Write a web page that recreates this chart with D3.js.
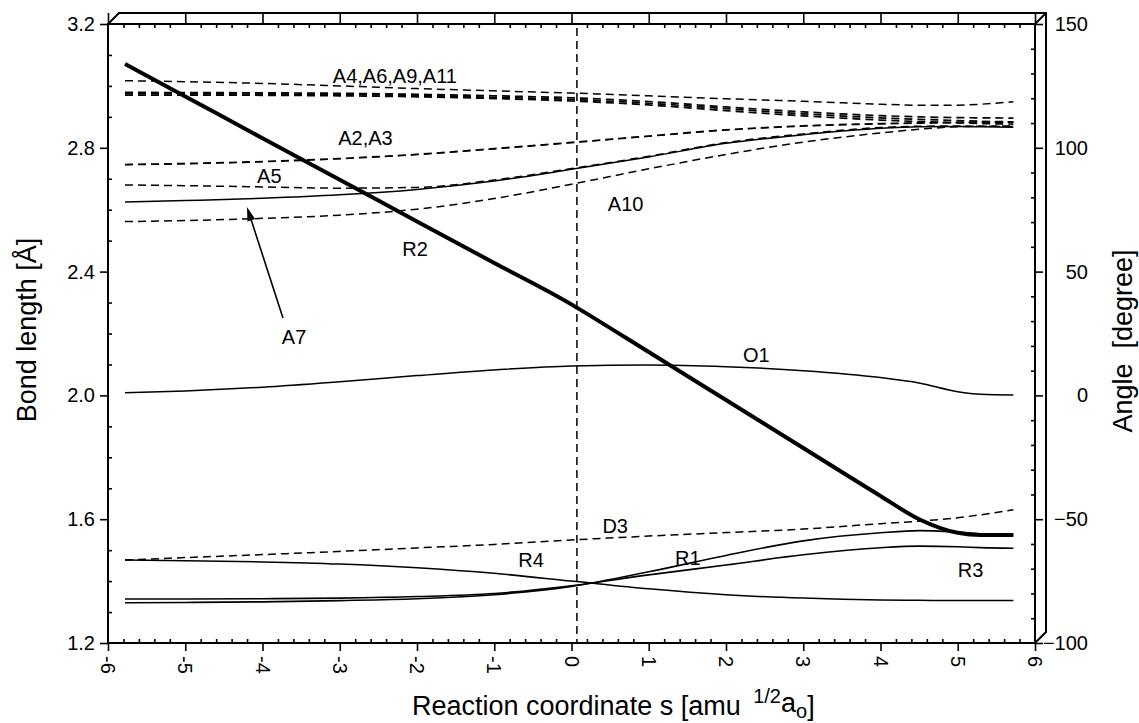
<!DOCTYPE html>
<html lang="en">
<head>
<meta charset="UTF-8">
<title>Bond lengths and angles along the reaction path</title>
<script src="https://d3js.org/d3.v7.min.js"></script>
<style>
    body { margin: 0; background: #fff; }
    svg text { font-family: "Liberation Sans", Arial, sans-serif; fill: #000; white-space: pre; }
    .domain { display: none; }
    .tick line { stroke: #000; stroke-width: 1.6px; }
</style>
</head>
<body>
<div id="chart"></div>
<script>
// reaction coordinate s, shared by most of the curves
var sGrid = [-5.78, -5, -4, -3, -2, -1, 0, 1, 2, 3, 4, 4.5, 5, 5.3, 5.72];
// R2 has its own grid because of the small step at the transition state
var sR2 = [-5.78, -5, -4, -3, -2, -1, 0, 0.08, 1, 2, 3, 4, 4.5, 5, 5.3, 5.72];

// bond lengths [Angstrom]
var R1 = [1.330, 1.331, 1.333, 1.337, 1.343, 1.356, 1.383, 1.430, 1.483, 1.530, 1.556, 1.563, 1.558, 1.553, 1.549];
var R2 = [3.071, 2.966, 2.831, 2.697, 2.562, 2.428, 2.294, 2.282, 2.140, 1.985, 1.830, 1.675, 1.600, 1.556, 1.549, 1.549];
var R3 = [1.342, 1.342, 1.343, 1.345, 1.350, 1.360, 1.385, 1.420, 1.452, 1.485, 1.508, 1.513, 1.511, 1.508, 1.506];
var R4 = [1.468, 1.466, 1.462, 1.455, 1.443, 1.425, 1.400, 1.375, 1.356, 1.345, 1.339, 1.338, 1.337, 1.337, 1.337];

// angles [degree]
var A2  = [93.3, 93.7, 94.5, 95.7, 97.4, 99.7, 102.2, 104.8, 107.3, 108.9, 109.8, 110.1, 110.3, 110.4, 110.5];
var A3  = [93.1, 93.5, 94.3, 95.5, 97.2, 99.5, 102.0, 104.6, 107.1, 108.7, 109.6, 109.9, 110.1, 110.2, 110.3];
var A4  = [127.1, 126.7, 126.0, 125.0, 123.9, 123.0, 122.1, 121.0, 119.8, 118.8, 117.6, 117.2, 117.2, 117.6, 118.6];
var A5  = [85.0, 84.7, 84.2, 83.7, 84.0, 87.0, 91.6, 96.6, 102.1, 105.6, 108.2, 108.7, 108.8, 108.7, 108.6];
var A6  = [122.4, 122.3, 122.2, 122.0, 121.6, 121.0, 120.2, 118.7, 116.5, 114.5, 113.0, 112.5, 112.2, 112.1, 112.0];
var A7  = [78.1, 78.7, 79.6, 81.0, 83.2, 86.6, 91.3, 96.3, 101.8, 105.3, 107.9, 108.5, 108.6, 108.5, 108.3];
var A9  = [121.9, 121.8, 121.7, 121.5, 121.1, 120.4, 119.5, 118.0, 115.8, 113.7, 112.1, 111.5, 111.0, 110.7, 110.5];
var A10 = [70.2, 70.6, 71.5, 72.8, 75.2, 79.5, 85.3, 91.5, 97.3, 102.3, 106.0, 107.5, 108.5, 108.7, 108.8];
var A11 = [121.3, 121.3, 121.2, 121.0, 120.6, 119.9, 118.9, 117.3, 115.0, 112.9, 111.2, 110.6, 110.1, 109.8, 109.6];
var D3  = [-66.5, -65.5, -64.3, -63.0, -61.6, -60.2, -58.4, -56.8, -55.4, -54.0, -51.8, -50.8, -49.4, -48.2, -46.2];
var O1  = [1.1, 1.8, 3.3, 5.5, 8.0, 10.3, 11.9, 12.3, 11.6, 10.0, 7.2, 5.0, 1.5, 0.5, 0.2];

// transition state position
var sTS = 0.07;

// tick labels
var xTicks = d3.range(-6, 7, 1);
var yLeftTicks = [1.2, 1.6, 2.0, 2.4, 2.8, 3.2];
var yRightTicks = [-100, -50, 0, 50, 100, 150];

var width = 1139, height = 723;
var mLeft = 108, mRight = 1035, mTop = 24, mBottom = 643, depth = 11;

var svg = d3.select("#chart").append("svg")
    .attr("width", width)
    .attr("height", height);

var x = d3.scaleLinear().domain([-6, 6]).range([mLeft, mRight]);
var yL = d3.scaleLinear().domain([1.2, 3.2]).range([mBottom, mTop]);
var yR = d3.scaleLinear().domain([-100, 150]).range([mBottom, mTop]);

// curves: which axis, dashed or not, line width
var series = [
    {name: "A4",  s: sGrid, v: A4,  axis: "R", dash: true,  w: 1.5},
    {name: "A6",  s: sGrid, v: A6,  axis: "R", dash: true,  w: 1.7},
    {name: "A9",  s: sGrid, v: A9,  axis: "R", dash: true,  w: 1.7},
    {name: "A11", s: sGrid, v: A11, axis: "R", dash: true,  w: 1.7},
    {name: "A2",  s: sGrid, v: A2,  axis: "R", dash: true,  w: 1.5},
    {name: "A3",  s: sGrid, v: A3,  axis: "R", dash: true,  w: 1.2},
    {name: "A5",  s: sGrid, v: A5,  axis: "R", dash: true,  w: 1.5},
    {name: "A7",  s: sGrid, v: A7,  axis: "R", dash: false, w: 1.5},
    {name: "A10", s: sGrid, v: A10, axis: "R", dash: true,  w: 1.5},
    {name: "O1",  s: sGrid, v: O1,  axis: "R", dash: false, w: 1.5},
    {name: "D3",  s: sGrid, v: D3,  axis: "R", dash: true,  w: 1.5},
    {name: "R1",  s: sGrid, v: R1,  axis: "L", dash: false, w: 1.6},
    {name: "R3",  s: sGrid, v: R3,  axis: "L", dash: false, w: 1.6},
    {name: "R4",  s: sGrid, v: R4,  axis: "L", dash: false, w: 1.5},
    {name: "R2",  s: sR2,   v: R2,  axis: "L", dash: false, w: 4}
];

// text labels placed in (s, Angstrom) coordinates
var notes = [
    {t: "A4,A6,A9,A11", s: -3.09, r: 3.009},
    {t: "A2,A3", s: -3.02, r: 2.809},
    {t: "A5", s: -4.07, r: 2.686},
    {t: "A10", s: 0.47, r: 2.596},
    {t: "R2", s: -2.19, r: 2.450},
    {t: "A7", s: -3.75, r: 2.166},
    {t: "O1", s: 2.22, r: 2.108},
    {t: "D3", s: 0.40, r: 1.555},
    {t: "R4", s: -0.69, r: 1.446},
    {t: "R1", s: 1.34, r: 1.452},
    {t: "R3", s: 5.00, r: 1.413}
];

// ---- axes ----
var minorX = d3.range(-6, 6.001, 0.2).filter(function(d) { return Math.abs(d - Math.round(d)) > 1e-6; });
var minorL = d3.range(1.2, 3.2001, 0.1).filter(function(d) { return Math.abs(d * 2.5 - Math.round(d * 2.5)) > 1e-6; });
var minorR = d3.range(-100, 150.001, 10).filter(function(d) { return d % 50 !== 0; });

// bottom
var gB = svg.append("g").attr("transform", "translate(0," + mBottom + ")");
gB.call(d3.axisBottom(x).tickValues(xTicks).tickSize(8).tickFormat(""));
gB.append("g").call(d3.axisBottom(x).tickValues(minorX).tickSize(-4).tickFormat(""));
gB.selectAll(".xlab").data(xTicks).enter().append("text")
    .attr("class", "xlab")
    .attr("transform", function(d) { return "translate(" + x(d) + ",13) rotate(90)"; })
    .attr("dominant-baseline", "central")
    .attr("text-anchor", "start")
    .style("font-size", "20px")
    .text(function(d) { return d; });

// top
var gT = svg.append("g").attr("transform", "translate(0," + mTop + ")");
gT.call(d3.axisTop(x).tickValues(xTicks).tickSize(depth).tickFormat(""));
gT.append("g").call(d3.axisTop(x).tickValues(minorX).tickSize(-4).tickFormat(""));

// left
var gL = svg.append("g").attr("transform", "translate(" + mLeft + ",0)");
gL.call(d3.axisLeft(yL).tickValues(yLeftTicks).tickSize(8).tickPadding(5)
    .tickFormat(d3.format(".1f")));
gL.append("g").call(d3.axisLeft(yL).tickValues(minorL).tickSize(-4).tickFormat(""));
gL.selectAll("text").style("font-size", "20px");

// right
var gR = svg.append("g").attr("transform", "translate(" + mRight + ",0)");
gR.call(d3.axisRight(yR).tickValues(yRightTicks).tickSize(8).tickFormat(d3.format("d")));
gR.append("g").call(d3.axisRight(yR).tickValues(minorR).tickSize(-4).tickFormat(""));
gR.selectAll("text")
    .attr("x", 53)
    .attr("text-anchor", "end")
    .style("font-size", "20px");
gB.attr("font-family", null);
gL.attr("font-family", null);
gR.attr("font-family", null);

// box with the Origin-style depth edge
var frame = d3.path();
frame.moveTo(mLeft, mTop); frame.lineTo(mRight, mTop); frame.lineTo(mRight, mBottom);
frame.lineTo(mLeft, mBottom); frame.closePath();
frame.moveTo(mLeft, mTop); frame.lineTo(mLeft + depth, mTop - depth);
frame.lineTo(mRight + depth, mTop - depth); frame.lineTo(mRight + depth, mBottom - depth);
frame.lineTo(mRight, mBottom);
frame.moveTo(mRight, mTop); frame.lineTo(mRight + depth, mTop - depth);
svg.append("path")
    .attr("d", frame.toString())
    .attr("fill", "none")
    .attr("stroke", "#000")
    .attr("stroke-width", 2)
    .attr("stroke-linejoin", "miter");

// ---- data ----
var plot = svg.append("g");

plot.append("line")
    .attr("x1", x(sTS)).attr("x2", x(sTS))
    .attr("y1", mTop + 4).attr("y2", mBottom)
    .attr("stroke", "#000")
    .attr("stroke-width", 1.5)
    .attr("stroke-dasharray", "8,5");

plot.selectAll(".curve").data(series).enter().append("path")
    .attr("class", "curve")
    .attr("d", function(c) {
        var yy = c.axis === "L" ? yL : yR;
        return d3.line()
            .x(function(d) { return x(d[0]); })
            .y(function(d) { return yy(d[1]); })
            .curve(d3.curveMonotoneX)(d3.zip(c.s, c.v));
    })
    .attr("fill", "none")
    .attr("stroke", "#000")
    .attr("stroke-width", function(c) { return c.w; })
    .attr("stroke-dasharray", function(c) { return c.dash ? "8,5" : null; });

plot.selectAll(".note").data(notes).enter().append("text")
    .attr("class", "note")
    .attr("x", function(d) { return x(d.s); })
    .attr("y", function(d) { return yL(d.r); })
    .style("font-size", "20px")
    .text(function(d) { return d.t; });

// arrow from the A7 label to its curve
var from = [x(-3.735), yL(2.250)], to = [x(-4.201), yL(2.609)];
var ang = Math.atan2(to[1] - from[1], to[0] - from[0]);
var headLen = 14, headW = 4;
plot.append("line")
    .attr("x1", from[0]).attr("y1", from[1])
    .attr("x2", to[0] - Math.cos(ang) * headLen * 0.8)
    .attr("y2", to[1] - Math.sin(ang) * headLen * 0.8)
    .attr("stroke", "#000").attr("stroke-width", 1.6);
var bx = to[0] - Math.cos(ang) * headLen, by = to[1] - Math.sin(ang) * headLen;
plot.append("path")
    .attr("d", "M" + to[0] + "," + to[1] +
        "L" + (bx + Math.sin(ang) * headW) + "," + (by - Math.cos(ang) * headW) +
        "L" + (bx - Math.sin(ang) * headW) + "," + (by + Math.cos(ang) * headW) + "Z")
    .attr("fill", "#000");

// ---- axis titles ----
svg.append("text")
    .attr("transform", "translate(36,330) rotate(-90)")
    .attr("text-anchor", "middle")
    .style("font-size", "27px")
    .text("Bond length [Å]");

svg.append("text")
    .attr("transform", "translate(1132,341) rotate(-90)")
    .attr("text-anchor", "middle")
    .style("font-size", "27px")
    .text("Angle  [degree]");

var xt = svg.append("text")
    .attr("x", 412)
    .attr("y", 715)
    .style("font-size", "27px");
xt.append("tspan").text("Reaction coordinate s [amu ");
xt.append("tspan").attr("dx", 5).attr("dy", -12).style("font-size", "20px").text("1/2");
xt.append("tspan").attr("dy", 9).text("a");
xt.append("tspan").attr("dy", 6).style("font-size", "20px").text("o");
xt.append("tspan").attr("dy", -3).text("]");
</script>
</body>
</html>
